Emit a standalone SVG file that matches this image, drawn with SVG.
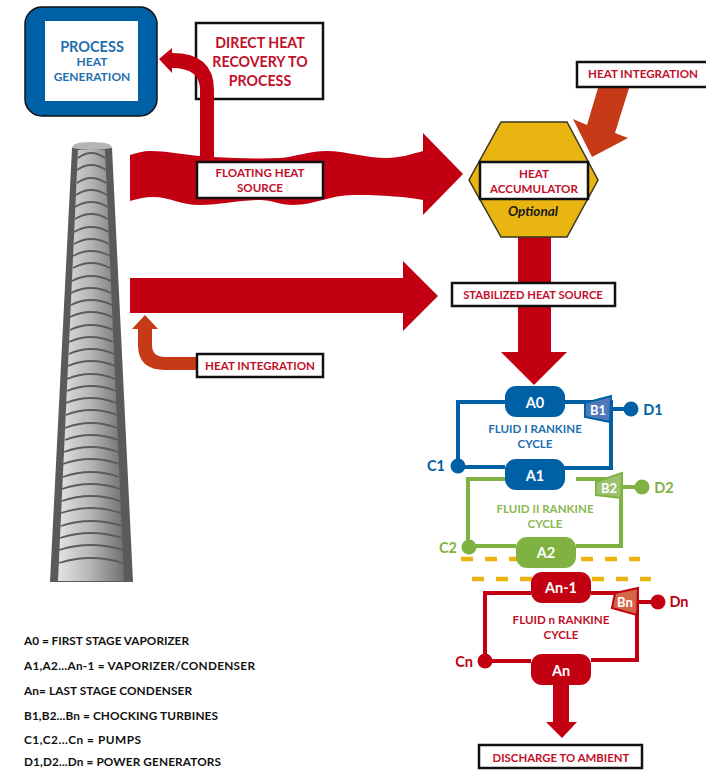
<svg xmlns="http://www.w3.org/2000/svg" width="706" height="770" viewBox="0 0 706 770">
<style>
text{font-family:"Lato","Liberation Sans",sans-serif;font-weight:700;text-anchor:middle}
.r{fill:#c20012}.o{fill:#c73a17}.bx{fill:#fff;stroke:#111;stroke-width:2.5}
.t{fill:#c20f2a;font-size:11.6px}.t2{fill:#c20f2a;font-size:14.2px}.l{fill:#111;font-size:11.8px;text-anchor:start}
.w{fill:#fff;font-size:14.5px}.w2{fill:#fff;font-size:13px}.bl{fill:#0060a5}.gr{fill:#7fb241}
.lb{font-size:14.5px}
.cb{fill:none;stroke:#0060a5;stroke-width:4}.cg{fill:none;stroke:#7fb241;stroke-width:4}.cr{fill:none;stroke:#c20012;stroke-width:4}
.d{stroke:#ecb40c;stroke-width:4.5;stroke-dasharray:12 12;fill:none}
.ring{fill:none;stroke:#5c5c5c;stroke-width:1.8}
</style>
<defs>
<linearGradient id="tw" x1="0" x2="1" y1="0" y2="0"><stop offset="0" stop-color="#e4e4e4"/><stop offset="0.5" stop-color="#b4b4b4"/><stop offset="1" stop-color="#707070"/></linearGradient>
</defs>
<g id="process">
<rect x="25" y="7" width="132" height="109" rx="17" class="bl" stroke="#111" stroke-width="1.5"/>
<rect x="45" y="21" width="93" height="80" fill="#fff"/>
<text x="92" y="52" font-size="14.5" fill="#1f6fae">PROCESS</text>
<text x="92" y="66" font-size="12" fill="#1f6fae">HEAT</text>
<text x="92" y="81" font-size="12" fill="#1f6fae">GENERATION</text>
</g>
<g id="stack">
<path d="M72 148Q91 141 112 148L133 582H50Z" fill="#5a5a5a"/>
<path d="M78 150H105L124 581H58Z" fill="url(#tw)"/>
<path d="M72 148Q72 142 91 142Q112 142 112 148Q91 152 72 148Z" fill="#b5b5b5"/>
<g id="rings"><path class="ring" d="M78 158Q91 148 105 158M77 170Q91 160 106 170M77 183Q91 173 106 183M76 195Q91 185 107 195M75 207Q91 197 108 207M75 219Q91 209 108 219M74 232Q91 222 109 232M74 244Q91 234 109 244M73 256Q91 246 110 256M73 268Q91 258 110 268M72 281Q91 271 111 281M71 293Q91 283 111 293M71 305Q91 295 112 305M70 317Q91 307 112 317M70 330Q91 320 113 330M69 342Q91 332 113 342M69 354Q91 344 114 354M68 366Q91 356 115 366M67 379Q91 369 115 379M67 391Q91 381 116 391M66 403Q91 393 116 403M66 415Q91 405 117 415M65 428Q91 418 117 428M65 440Q91 430 118 440M64 452Q91 442 118 452M63 464Q91 454 119 464M63 477Q91 467 119 477M62 489Q91 479 120 489M62 501Q91 491 120 501M61 513Q91 503 121 513M61 526Q91 516 122 526M60 538Q91 528 122 538M59 550Q91 540 123 550M59 563Q91 553 123 563"/></g>
</g>
<g id="direct-label"><rect x="196" y="23" width="127" height="76" class="bx"/>
<text x="260" y="48" class="t2">DIRECT HEAT</text>
<text x="260" y="67" class="t2">RECOVERY TO</text>
<text x="260" y="86" class="t2">PROCESS</text></g>
<g id="connectors">
<path class="r" d="M200 162V90Q200 68 172 68V73L159 59 172 48V53Q214 53 214 90V162Z"/>
<path class="r" d="M130 155C137 153 143 151 150 151C170 151 190 156 213 157C235 158 258 159 280 158C295 157 308 151 327 151C345 151 365 158 387 158C400 158 412 154 423 151V133L463 174 423 215V200C410 197 380 195 353 195C330 195 315 205 293 205C280 205 272 200 260 200C240 200 220 205 200 205C180 205 170 197 153 197C145 197 137 199 130 201Z"/>
<path class="r" d="M130 278H403V261L438 296 403 331V313H130Z"/>
<path class="o" d="M200 357H165Q152 357 152 345V329H158L145 315 132 329H138V345Q138 370 165 370H200Z"/>
<path class="o" d="M598 88L629 88 615 133 628 138 592 157 573 119 587 125Z"/>
<path class="r" d="M518 236H551V352H567L534 385 501 352H518Z"/>
<path class="r" d="M553 683H569V722H577L562 738 546 722H553Z"/>
</g>
<g id="floating-label"><rect x="197" y="162" width="126" height="36" class="bx"/>
<text x="260" y="177" class="t">FLOATING HEAT</text><text x="260" y="192" class="t">SOURCE</text></g>
<g id="heat-int-top"><rect x="577" y="62" width="132" height="25" class="bx"/><text x="643" y="78" class="t">HEAT INTEGRATION</text></g>
<g id="accumulator">
<path d="M501 122H567L598 180 567 237H501L469 180Z" fill="#e9b611" stroke="#3a3520" stroke-width="1.5"/>
<rect x="480" y="162" width="108" height="37" class="bx"/>
<text x="534" y="178" class="t">HEAT</text><text x="534" y="193" class="t">ACCUMULATOR</text>
<text x="533" y="216" font-size="13.5" fill="#1a1a1a" style="font-style:italic">Optional</text></g>
<g id="stabilized-label"><rect x="452" y="283" width="163" height="23" class="bx"/><text x="533" y="299" class="t" style="font-size:11.2px">STABILIZED HEAT SOURCE</text></g>
<g id="heat-int-low"><rect x="197" y="354" width="126" height="23" class="bx"/><text x="260" y="370" class="t">HEAT INTEGRATION</text></g>
<g id="fluid1">
<path class="cb" d="M505 402H458V467H505M564 402H611V468H564"/>
<path d="M585 403L611 396 610 422 585 417Z" fill="#4f79b8" stroke="#0060a5" stroke-width="2"/>
<text x="598" y="415" class="w2">B1</text>
<path class="cb" d="M611 409H630"/>
<circle cx="631" cy="409" r="7.5" class="bl"/><circle cx="458" cy="466" r="7.5" class="bl"/>
<rect x="505" y="386" width="60" height="31" rx="11" class="bl"/><rect x="505" y="459" width="60" height="31" rx="11" class="bl"/>
<text x="535" y="408" class="w">A0</text><text x="535" y="481" class="w">A1</text>
<text x="653" y="415" class="lb" fill="#0060a5">D1</text><text x="436" y="471" class="lb" fill="#0060a5">C1</text>
<text x="535" y="433" class="t" style="fill:#1f6fae">FLUID I RANKINE</text><text x="535" y="448" class="t" style="fill:#1f6fae">CYCLE</text>
</g>
<g id="fluid2">
<path class="cg" d="M505 479H468V546H516M576 546H621V479H576"/>
<path d="M596 482L622 473 621 498 596 495Z" fill="#9cc26f" stroke="#7fb241" stroke-width="2"/>
<text x="609" y="493" class="w2">B2</text>
<path class="cg" d="M622 487H640"/>
<circle cx="642" cy="487" r="7.5" class="gr"/><circle cx="469" cy="547" r="7.5" class="gr"/>
<path class="d" d="M461 559H640"/>
<rect x="516" y="537" width="60" height="31" rx="11" class="gr"/>
<text x="546" y="558" class="w">A2</text>
<text x="664" y="493" class="lb" fill="#7fb241">D2</text><text x="448" y="553" class="lb" fill="#7fb241">C2</text>
<text x="545" y="513" class="t" style="fill:#8ab84f">FLUID II RANKINE</text><text x="545" y="528" class="t" style="fill:#8ab84f">CYCLE</text>
</g>
<g id="fluidn">
<path class="d" d="M472 579H651"/>
<path class="cr" d="M531 593H485V661H531M591 593H637V660H591"/>
<path d="M615 593L638 588 637 615 612 608Z" fill="#d4664a" stroke="#c20012" stroke-width="2"/>
<text x="625" y="607" class="w2">Bn</text>
<path class="cr" d="M638 602H657"/>
<circle cx="658" cy="602" r="7.5" class="r"/><circle cx="485" cy="661" r="7.5" class="r"/>
<rect x="531" y="572" width="60" height="31" rx="11" class="r"/><rect x="531" y="654" width="60" height="31" rx="11" class="r"/>
<text x="561" y="593" class="w">An-1</text><text x="561" y="676" class="w">An</text>
<text x="679" y="607" class="lb" fill="#c20012">Dn</text><text x="464" y="667" class="lb" fill="#c20012">Cn</text>
<text x="561" y="624" class="t">FLUID n RANKINE</text><text x="561" y="639" class="t">CYCLE</text>
</g>
<g id="discharge-label"><rect x="479" y="745" width="163" height="23" class="bx"/><text x="561" y="762" class="t" style="font-size:11.4px">DISCHARGE TO AMBIENT</text></g>
<g id="legend">
<text x="24" y="645" class="l" textLength="165">A0 = FIRST STAGE VAPORIZER</text>
<text x="24" y="670" class="l" textLength="231">A1,A2...An-1 = VAPORIZER/CONDENSER</text>
<text x="24" y="695" class="l" textLength="168">An= LAST STAGE CONDENSER</text>
<text x="24" y="720" class="l" textLength="194">B1,B2...Bn = CHOCKING TURBINES</text>
<text x="24" y="744" class="l" textLength="117">C1,C2...Cn = PUMPS</text>
<text x="24" y="766" class="l" textLength="197">D1,D2...Dn = POWER GENERATORS</text>
</g>
</svg>
